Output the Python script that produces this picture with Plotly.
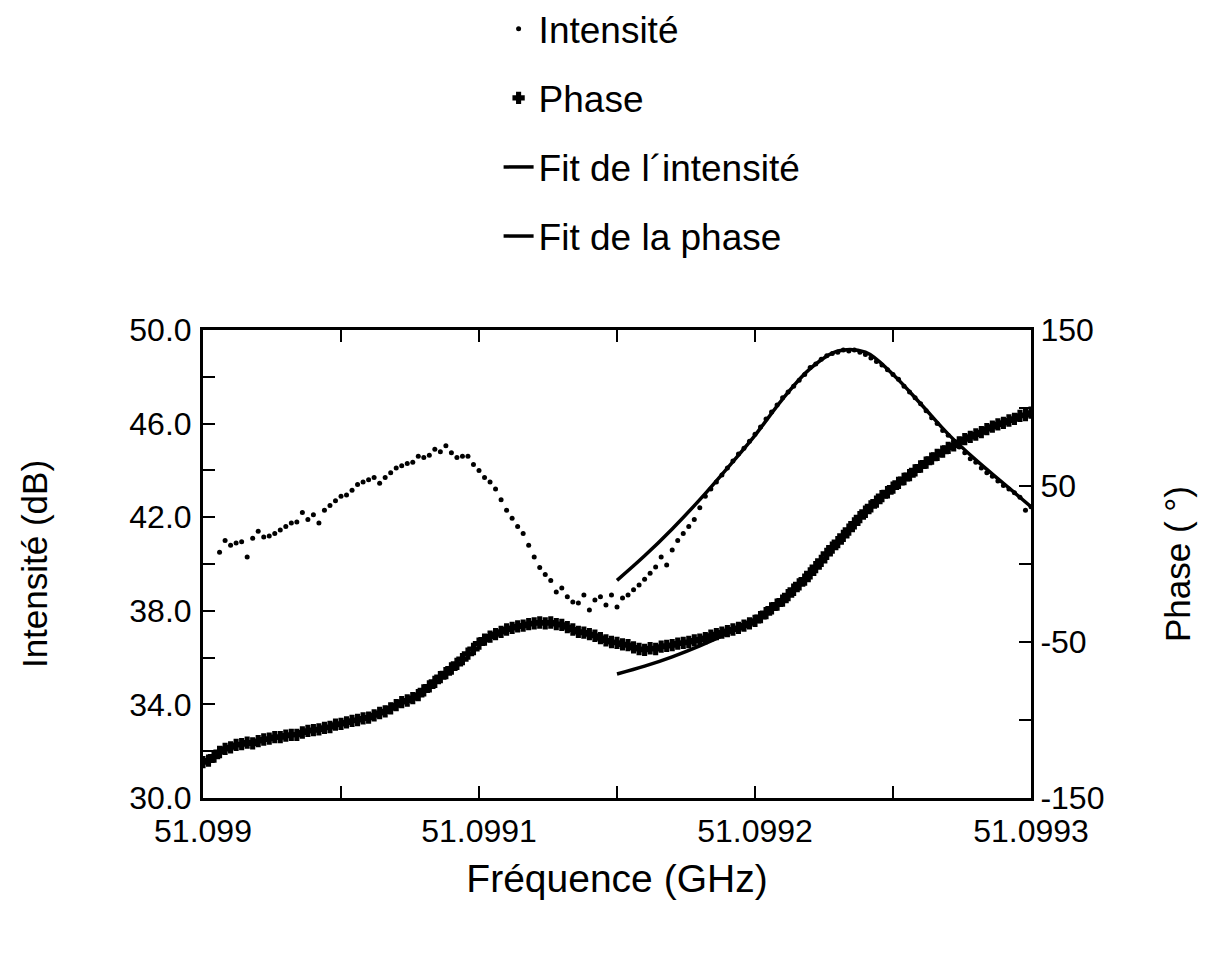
import numpy as np
import plotly.graph_objects as go

# ---------------- data ----------------
freq_start = 51.099
freq_stop = 51.0993
n_samples = 151
frequence = np.linspace(freq_start, freq_stop, n_samples)  # frequency sweep (GHz)

# Phase (deg), one value per sweep sample
phase = [
    -127, -126, -123.5, -120.5, -118.5, -117.5, -116, -115.5, -114.5, -115,
    -113.5, -112.5, -112, -111, -111, -110, -109.5, -109.5, -108, -107,
    -106.5, -106, -105, -104.5, -103, -102.5, -101.5, -100.5, -100, -99,
    -98.5, -97, -95.5, -94.5, -92.5, -90.5, -88.5, -87.5, -86, -84,
    -81, -78.5, -75.5, -72.5, -70, -67, -64, -61, -57.5, -54.5,
    -51, -48.5, -46.5, -45, -43.5, -42, -41, -40, -39.5, -38.5,
    -38, -37.5, -38, -37.5, -38.5, -39, -40.5, -42, -43.5, -44,
    -45, -46, -47.5, -49, -50, -50.5, -51.5, -52, -53.5, -54.5,
    -55, -54, -54.5, -53, -52.5, -52, -51, -50.5, -50, -49,
    -48.5, -47.5, -46, -45, -44, -43, -42, -41, -39.5, -38,
    -36.5, -34, -31.5, -28.5, -26, -23.5, -20, -16.5, -13, -10,
    -6, -2, 2, 6.5, 10.5, 14, 18, 22, 26, 30,
    33.5, 37, 40, 43.5, 46, 49, 52, 54.5, 57, 60,
    62.5, 65, 67.5, 70, 72, 74.5, 76, 78, 80, 81.5,
    83, 84.5, 86.5, 88, 89.5, 90.5, 92, 93, 95, 95.5,
    97,
]

# Intensity (dB), measured from the 4th sweep sample onward
intensite_start = 3
intensite = [
    40.5, 41.0, 40.8, 40.9, 40.95, 40.3, 41.1, 41.4, 41.15, 41.2,
    41.3, 41.45, 41.6, 41.75, 41.8, 42.2, 41.9, 42.1, 41.75, 42.3,
    42.5, 42.7, 42.9, 42.95, 43.15, 43.4, 43.5, 43.6, 43.7, 43.45,
    43.7, 43.9, 44.1, 44.2, 44.3, 44.35, 44.6, 44.55, 44.65, 44.9,
    44.8, 45.05, 44.75, 44.55, 44.6, 44.6, 44.25, 44.0, 43.7, 43.5,
    43.2, 42.75, 42.3, 41.95, 41.6, 41.3, 40.8, 40.3, 39.85, 39.55,
    39.3, 38.8, 38.97, 38.6, 38.38, 38.33, 38.68, 38.03, 38.46, 38.6,
    38.25, 38.68, 38.16, 38.55, 38.68, 38.9, 39.1, 39.35, 39.6, 39.87,
    40.3, 39.96, 40.6, 41.0, 41.3, 41.6, 41.9, 42.4, 42.9, 43.2,
    43.5, 43.8, 44.1, 44.4, 44.7, 44.95, 45.25, 45.55, 45.85, 46.2,
    46.5, 46.8, 47.1, 47.35, 47.6, 47.85, 48.1, 48.4, 48.55, 48.75,
    48.9, 49.0, 49.05, 49.15, 49.1, 49.15, 49.05, 48.95, 48.8, 48.65,
    48.5, 48.3, 48.1, 47.9, 47.6, 47.35, 47.1, 46.85, 46.55, 46.25,
    46.0, 45.7, 45.5, 45.25, 45.0, 44.75, 44.5, 44.35, 44.1, 43.9,
    43.75, 43.55, 43.35, 43.2, 43.05, 42.85, 42.3, 42.45,
]

# Fits
fit_frequence = [51.09915, 51.09916, 51.09917, 51.09918, 51.09919, 51.0992,
                 51.09921, 51.09922, 51.09923, 51.09924, 51.09925, 51.09926,
                 51.09927, 51.09928, 51.09929, 51.0993]
fit_intensite = [39.3, 40.35, 41.5, 42.75, 44.1, 45.5, 47.05, 48.35,
                 49.1, 49.05, 48.1, 46.85, 45.55, 44.45, 43.45, 42.45]
fit_phase = [-70.5, -65.5, -59.5, -52.5, -44.5, -35.5, -23.5, -6.5,
             14, 33.5, 49, 62.5, 74.5, 83, 90.5, 96.5]

# Axis ticks / labels
x_dtick = 0.0001
x_minor = 0.00005
int_range = [30, 50]
int_tickvals = [30, 32, 34, 36, 38, 40, 42, 44, 46, 48, 50]
int_ticktext = ["30.0", "", "34.0", "", "38.0", "", "42.0", "", "46.0", "", "50.0"]
phase_range = [-150, 150]
phase_tickvals = [-150, -100, -50, 0, 50, 100, 150]
phase_ticktext = ["-150", "", "-50", "", "50", "", "150"]

# ---------------- figure ----------------
FONT = "Liberation Sans, Arial, Helvetica, sans-serif"
BLACK = "black"

fig = go.Figure()

fig.add_trace(go.Scatter(
    x=frequence[intensite_start:], y=intensite, mode="markers",
    name="Intensité", legendgroup="a",
    marker=dict(symbol="circle", size=5, color=BLACK),
))
fig.add_trace(go.Scatter(
    x=frequence, y=phase, mode="markers", yaxis="y2",
    name="Phase", legendgroup="b",
    marker=dict(symbol="cross", size=9, color=BLACK,
                line=dict(width=1.5, color=BLACK)),
))
fig.add_trace(go.Scatter(
    x=fit_frequence, y=fit_intensite, mode="lines",
    name="Fit de l\u00b4intensité", legendgroup="c",
    line=dict(color=BLACK, width=3.5, shape="spline"),
))
fig.add_trace(go.Scatter(
    x=fit_frequence, y=fit_phase, mode="lines", yaxis="y2",
    name="Fit de la phase", legendgroup="d",
    line=dict(color=BLACK, width=3.5, shape="spline"),
))

tick_font = dict(family=FONT, size=32, color=BLACK)

fig.update_layout(
    width=1207, height=959,
    margin=dict(l=203, r=176, t=330, b=161, autoexpand=False),
    paper_bgcolor="white", plot_bgcolor="white",
    font=dict(family=FONT, color=BLACK),
    showlegend=True,
    legend=dict(
        x=0.357, xanchor="left", y=1.709, yanchor="top",
        orientation="v", font=dict(family=FONT, size=37, color=BLACK),
        tracegroupgap=18, bgcolor="rgba(0,0,0,0)", borderwidth=0,
    ),
    xaxis=dict(
        range=[freq_start, freq_stop],
        tickmode="linear", tick0=freq_start, dtick=x_dtick,
        tickformat=".4~f",
        ticks="inside", ticklen=12, tickwidth=2, tickcolor=BLACK,
        minor=dict(tickmode="linear", tick0=freq_start, dtick=x_minor,
                   ticks="inside", ticklen=8, tickwidth=2, tickcolor=BLACK),
        showline=True, linewidth=3, linecolor=BLACK, mirror="allticks",
        showgrid=False, zeroline=False, automargin=False,
        tickfont=tick_font, ticklabelstandoff=3,
        title=dict(text="Fréquence (GHz)",
                   font=dict(family=FONT, size=39, color=BLACK), standoff=17),
    ),
    yaxis=dict(
        range=int_range, tickmode="array",
        tickvals=int_tickvals, ticktext=int_ticktext,
        ticks="inside", ticklen=12, tickwidth=2, tickcolor=BLACK,
        showline=True, linewidth=3, linecolor=BLACK,
        showgrid=False, zeroline=False, automargin=False,
        tickfont=tick_font, ticklabelstandoff=2,
        title=dict(text="Intensité (dB)",
                   font=dict(family=FONT, size=35, color=BLACK), standoff=72),
    ),
    yaxis2=dict(
        range=phase_range, overlaying="y", side="right",
        tickmode="array", tickvals=phase_tickvals, ticktext=phase_ticktext,
        ticks="inside", ticklen=12, tickwidth=2, tickcolor=BLACK,
        showline=True, linewidth=3, linecolor=BLACK,
        showgrid=False, zeroline=False, automargin=False,
        tickfont=tick_font, ticklabelstandoff=0,
        title=dict(text="Phase ( °)",
                   font=dict(family=FONT, size=35, color=BLACK), standoff=63),
    ),
)

fig.write_html("out.html", config={"displayModeBar": False},
               post_script="document.body.style.margin='0';")
